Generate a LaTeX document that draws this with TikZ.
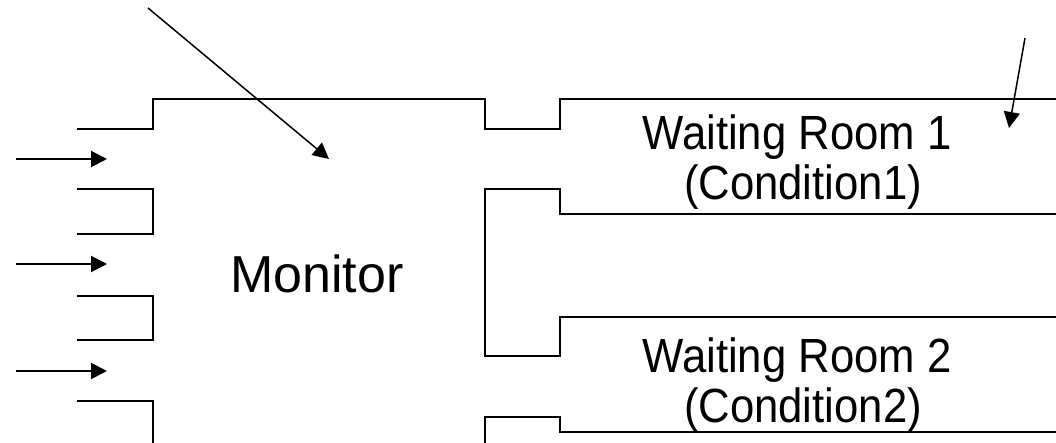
\documentclass[tikz,border=0pt]{standalone}
\usepackage{fontspec}
\setmainfont{Liberation Sans}
\usetikzlibrary{arrows.meta}
\tikzset{
  wall/.style={line width=1.8pt, line join=miter},
  ptr/.style={line width=2pt, -{Triangle[length=16pt,width=16pt]}},
  roomtext/.style={font=\fontsize{48}{50}\selectfont, anchor=base, xscale=0.91, inner sep=0pt},
  montext/.style={font=\fontsize{52}{54}\selectfont, anchor=base, inner sep=0pt}
}
\begin{document}
\begin{tikzpicture}[x=1pt,y=-1pt]
\useasboundingbox (0,0) rectangle (1056,443);
% walls of monitor
\draw[wall] (77,129) -- (153,129) -- (153,99) -- (485,99) -- (485,129) -- (560,129) -- (560,99) -- (1056,99);
\draw[wall] (77,189) -- (153,189) -- (153,234) -- (77,234);
\draw[wall] (77,296) -- (153,296) -- (153,340) -- (77,340);
\draw[wall] (77,401) -- (153,401) -- (153,443);
\draw[wall] (1056,214) -- (560,214) -- (560,189) -- (485,189) -- (485,356) -- (560,356) -- (560,317) -- (1056,317);
\draw[wall] (485,443) -- (485,417) -- (560,417) -- (560,432) -- (1056,432);
% entry arrows
\coordinate (a1s) at (16,159); \coordinate (a1e) at (107,159);
\coordinate (a2s) at (16,264); \coordinate (a2e) at (107,264);
\coordinate (a3s) at (16,371); \coordinate (a3e) at (107,371);
\draw[ptr] (a1s) -- (a1e);
\draw[ptr] (a2s) -- (a2e);
\draw[ptr] (a3s) -- (a3e);
% pointer arrows
\coordinate (d1s) at (148,8); \coordinate (d1e) at (329,159);
\coordinate (d2s) at (1025,38); \coordinate (d2e) at (1009,128);
\draw[ptr, line width=1.5pt] (d1s) -- (d1e);
\draw[ptr, line width=1.5pt] (d2s) -- (d2e);
% texts
\node[montext] (mon) at (317,293) {Monitor};
\node[roomtext] (wr1a) at (797,150) {Waiting Room 1};
\node[roomtext] (wr1b) at (803,200) {(Condition1)};
\node[roomtext] (wr2a) at (797,372) {Waiting Room 2};
\node[roomtext] (wr2b) at (803,422) {(Condition2)};
\end{tikzpicture}
\end{document}
